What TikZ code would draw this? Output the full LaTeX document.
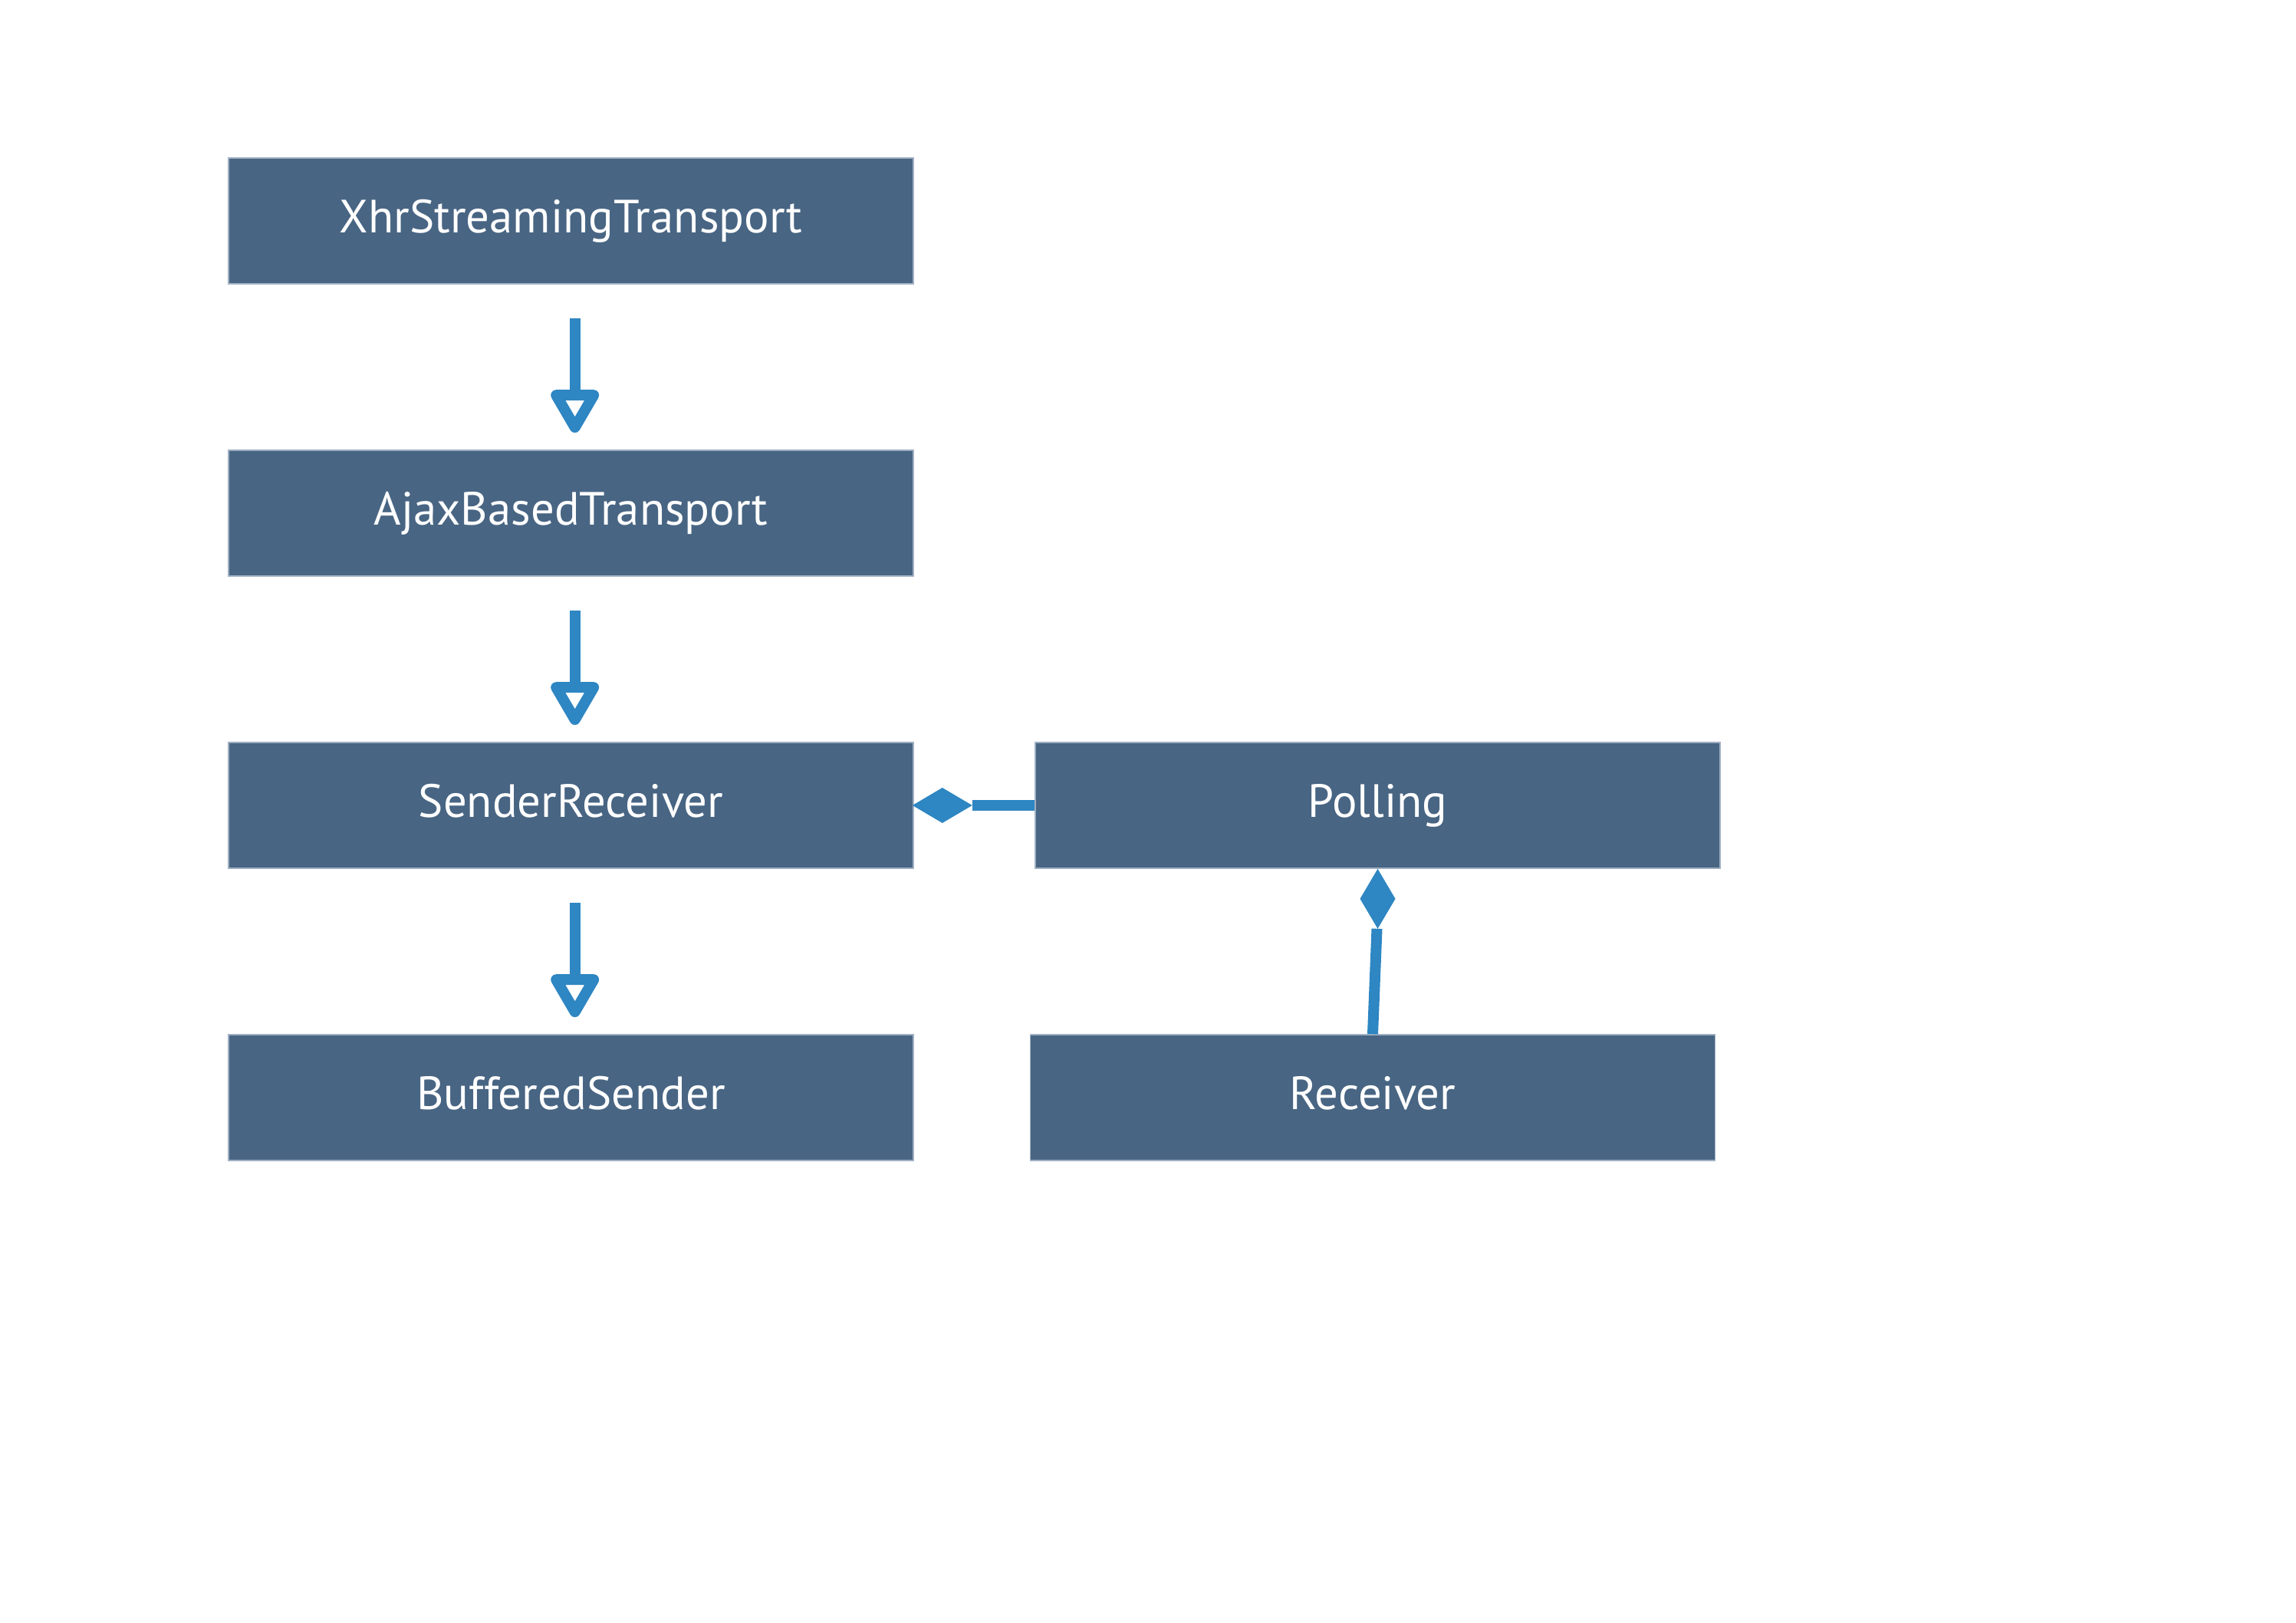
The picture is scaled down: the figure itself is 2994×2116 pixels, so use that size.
\documentclass[tikz,border=0pt]{standalone}
\usepackage{fontspec}
\setmainfont{PT Sans}
\usetikzlibrary{calc}
\definecolor{boxfill}{RGB}{72,101,131}
\definecolor{boxline}{RGB}{160,176,194}
\definecolor{conn}{RGB}{46,134,194}
\tikzset{
  cls/.style={rectangle, fill=boxfill, draw=boxline, line width=0.4pt,
    minimum width=223.25pt, minimum height=41pt, inner sep=0pt,
    text height=12.2pt, text depth=4.5pt,
    text=white, font=\fontsize{15.2}{18}\selectfont},
  shaft/.style={draw=conn, line width=3.5pt},
  openhead/.style={draw=conn, line width=3.5pt, line join=round, fill=white},
  solidhead/.style={fill=conn, draw=none},
}
\begin{document}
\begin{tikzpicture}[x=0.25pt, y=-0.25pt]
\useasboundingbox (0,0) rectangle (2994,2116);
\node[cls] (xhr)  at (744.5,288) {XhrStreamingTransport};
\node[cls] (ajax) at (744.5,669) {AjaxBasedTransport};
\node[cls] (sr)   at (744.5,1050) {SenderReceiver};
\node[cls] (buf)  at (744.5,1431) {BufferedSender};
\node[cls] (poll) at (1796.5,1050) {Polling};
\node[cls] (recv) at (1790,1431) {Receiver};

% generalization arrows
\foreach \a/\b [count=\i] in {xhr/ajax, ajax/sr, sr/buf}{
  \coordinate (s\i) at ([xshift=1.3pt,yshift=-11pt]\a.south);
  \coordinate (t\i) at ([xshift=1.3pt,yshift=7.25pt]\b.north);
  \draw[shaft] (s\i) -- ($(t\i)+(0,-42)$);
  \draw[openhead] ($(t\i)+(-24.5,-42)$) -- ($(t\i)+(24.5,-42)$) -- (t\i) -- cycle;
}

% composition Polling -> SenderReceiver
\coordinate (d1) at ([xshift=-0.5pt]sr.east);
\fill[conn] (d1) -- ++(39,-23) -- ++(39,23) -- ++(-39,23) -- cycle;
\draw[shaft] ($(d1)+(78,0)$) -- (poll.west);

% composition Receiver -> Polling
\coordinate (d2) at (poll.south);
\fill[conn] (d2) -- ++(23,39) -- ++(-23,39) -- ++(-23,-39) -- cycle;
\draw[shaft] ($(d2)+(-1,78)$) -- (recv.north);
\end{tikzpicture}
\end{document}
